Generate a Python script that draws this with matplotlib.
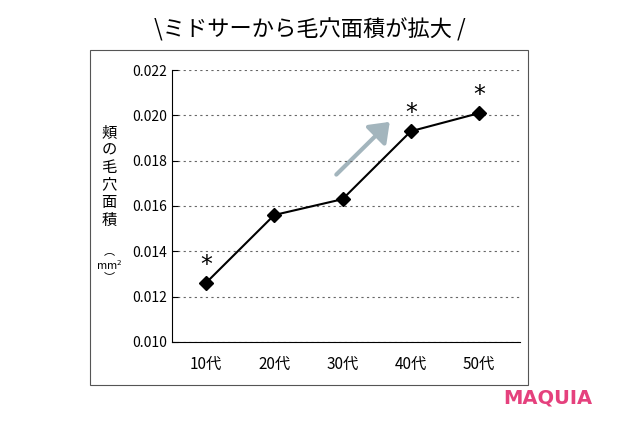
import matplotlib.pyplot as plt
from matplotlib.patches import Rectangle, FancyArrowPatch

plt.rcParams["font.family"] = "Noto Sans CJK JP"

ages = ["10代", "20代", "30代", "40代", "50代"]
pore_area = [0.0126, 0.0156, 0.0163, 0.0193, 0.0201]
marked = [True, False, False, True, True]
y_ticks = [0.010, 0.012, 0.014, 0.016, 0.018, 0.020, 0.022]

fig = plt.figure(figsize=(6.2, 4.3), dpi=100)
fig.patches.append(Rectangle((0.145, 0.105), 0.707, 0.779, transform=fig.transFigure,
                             fill=False, edgecolor="#555555", linewidth=0.8))
ax = fig.add_axes([0.277, 0.205, 0.562, 0.632])

x = range(len(ages))
ax.plot(x, pore_area, color="black", linewidth=1.5, marker="D", markersize=7)
for i, (v, m) in enumerate(zip(pore_area, marked)):
    if m:
        ax.text(i, v + 0.0008, "*", ha="center", va="center", fontsize=17,
                fontfamily="DejaVu Sans")

ax.add_patch(FancyArrowPatch((1.88, 0.0173), (2.72, 0.0198),
                             arrowstyle="-|>,head_length=0.8,head_width=0.6",
                             color="#a3b5bd", linewidth=3, mutation_scale=14))

ax.set_xlim(-0.5, 4.6)
ax.set_ylim(0.010, 0.022)
ax.set_xticks(list(x))
ax.set_xticklabels(ages, fontsize=11)
ax.set_yticks(y_ticks)
ax.set_yticklabels([f"{t:.3f}" for t in y_ticks], fontsize=10)
ax.yaxis.grid(True, linestyle=(0, (2, 3)), color="#666666", linewidth=0.8)
for s in ["top", "right"]:
    ax.spines[s].set_visible(False)
ax.tick_params(axis="x", length=0, pad=10)
ax.tick_params(axis="y", length=4, direction="in")

fig.text(0.176, 0.59, "頬\nの\n毛\n穴\n面\n積", ha="center", va="center",
         fontsize=11, linespacing=1.05)
fig.text(0.176, 0.385, "︵\n$\\mathregular{mm^2}$\n︶", ha="center", va="center",
         fontsize=8, linespacing=1.1)
fig.text(0.5, 0.93, "\\ミドサーから毛穴面積が拡大 /", ha="center", va="center", fontsize=16)
fig.text(0.955, 0.075, "MAQUIA", ha="right", va="center", fontsize=14,
         fontweight="bold", color="#e5417d", fontfamily="DejaVu Sans")

fig.savefig("out.png", dpi=100)
